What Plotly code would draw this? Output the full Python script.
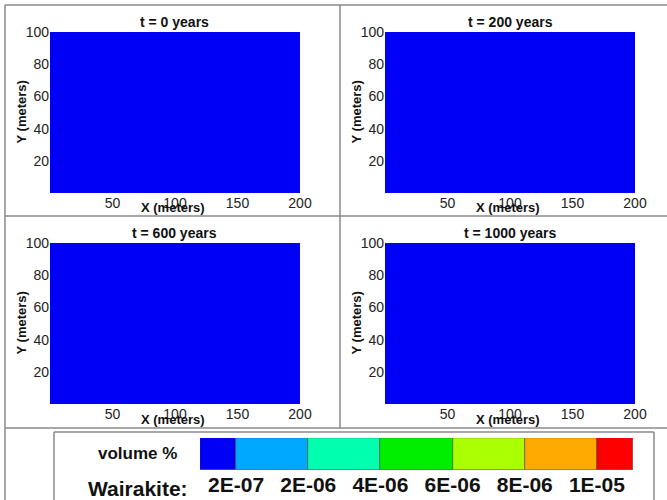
import numpy as np
import plotly.graph_objects as go

# Simulation snapshots (years) and the Wairakite volume fraction in the 200 m x 100 m domain
times = [0, 200, 600, 1000]
wairakite_field = [
    [[0.0]],
    [[0.0]],
    [[0.0]],
    [[0.0]],
]
x_extent = [0, 200]
y_extent = [0, 100]

# Contour levels (volume %) and the colour of each class
levels = [2e-07, 2e-06, 4e-06, 6e-06, 8e-06, 1e-05]
level_labels = ["2E-07", "2E-06", "4E-06", "6E-06", "8E-06", "1E-05"]
class_colors = ["#0000F6", "#00A9FF", "#00FFAE", "#00EE00", "#AAFF00", "#FFAA00", "#FF0000"]

x_ticks = [50, 100, 150, 200]
y_ticks = [20, 40, 60, 80, 100]

W, H = 667, 500
n_cls = len(class_colors)
stepped = []
for i, c in enumerate(class_colors):
    stepped += [[i / n_cls, c], [(i + 1) / n_cls, c]]

fig = go.Figure()

# panel plot areas in pixels: (left, right, top, bottom)
panels = [(50, 300, 32, 193), (385, 635, 32, 193), (50, 300, 243, 404), (385, 635, 243, 404)]


def px_x(p):
    return p / W


def px_y(p):
    return 1 - p / H


def label(text, x, y, size, **kw):
    fig.add_annotation(text=text, x=px_x(x), y=px_y(y), xref="paper", yref="paper",
                       showarrow=False, xanchor=kw.pop("xanchor", "center"), yanchor="middle",
                       font=dict(family="Liberation Sans, Arial", size=size, color="#111"), **kw)


font_tick = dict(family="Liberation Sans, Arial", size=14, color="#222")
for k, (t, field, (l, r, tp, bt)) in enumerate(zip(times, wairakite_field, panels)):
    idx = "" if k == 0 else str(k + 1)
    cls = np.digitize(np.array(field), levels)
    fig.add_trace(go.Heatmap(
        x=x_extent, y=y_extent, z=cls.tolist(), zmin=-0.5, zmax=n_cls - 0.5,
        colorscale=stepped, showscale=False, xaxis="x" + idx, yaxis="y" + idx,
        hoverinfo="skip"))
    fig.layout["xaxis" + idx] = dict(
        domain=[px_x(l), px_x(r)], range=x_extent, anchor="y" + idx, automargin=False,
        tickvals=x_ticks, ticks="", showgrid=False, zeroline=False,
        tickfont=font_tick, showline=False)
    fig.layout["yaxis" + idx] = dict(
        domain=[px_y(bt), px_y(tp)], range=y_extent, anchor="x" + idx, automargin=False,
        tickvals=y_ticks, ticks="", showgrid=False, zeroline=False,
        tickfont=font_tick, showline=False)
    cx = (l + r) / 2
    label(f"<b>t = {t} years</b>", cx, tp - 10, 14)
    label("<b>X (meters)</b>", cx - 2, bt + 15, 13)
    label("<b>Y (meters)</b>", l - 29, (tp + bt) / 2, 13, textangle=-90)

# colour key: blue and red end classes are half width
edges = [-0.5] + list(range(len(levels))) + [len(levels) - 0.5]
centers = [(a + b) / 2 for a, b in zip(edges[:-1], edges[1:])]
widths = [b - a for a, b in zip(edges[:-1], edges[1:])]
fig.add_trace(go.Bar(
    x=centers, y=[1] * n_cls, width=widths,
    marker=dict(color=class_colors, line=dict(color="#444", width=0.6)),
    xaxis="x5", yaxis="y5", hoverinfo="skip", showlegend=False))
fig.layout.xaxis5 = dict(domain=[px_x(200), px_x(633)], range=[edges[0], edges[-1]], anchor="y5",
                         automargin=False, tickvals=list(range(len(levels))),
                         ticktext=[f"<b>{s}</b>" for s in level_labels],
                         ticks="", showgrid=False, zeroline=False, showline=False,
                         tickfont=dict(family="Liberation Sans, Arial", size=21, color="#111"))
fig.layout.yaxis5 = dict(domain=[px_y(470), px_y(438)], range=[0, 1], anchor="x5", automargin=False,
                         showticklabels=False, showgrid=False, zeroline=False)
label("<b>volume %</b>", 137, 453, 17)
label("<b>Wairakite:</b>", 190, 488, 21, xanchor="right")

# frame lines between the panels and around the key
line = dict(color="#8a8a8a", width=1.5)
frame = [
    (5, 5, 5, H), (5, 5, W, 5), (340, 5, 340, 428), (5, 216, W, 216), (5, 428, W, 428),
    (54, 432, 654, 432), (54, 432, 54, H), (654, 432, 654, H),
]
shapes = [dict(type="line", xref="paper", yref="paper", x0=px_x(a), y0=px_y(b), x1=px_x(c), y1=px_y(d), line=line)
          for a, b, c, d in frame]
fig.update_layout(shapes=shapes, width=W, height=H, margin=dict(l=0, r=0, t=0, b=0),
                  paper_bgcolor="white", plot_bgcolor="white", showlegend=False, bargap=0)

fig.write_html("out.html")
